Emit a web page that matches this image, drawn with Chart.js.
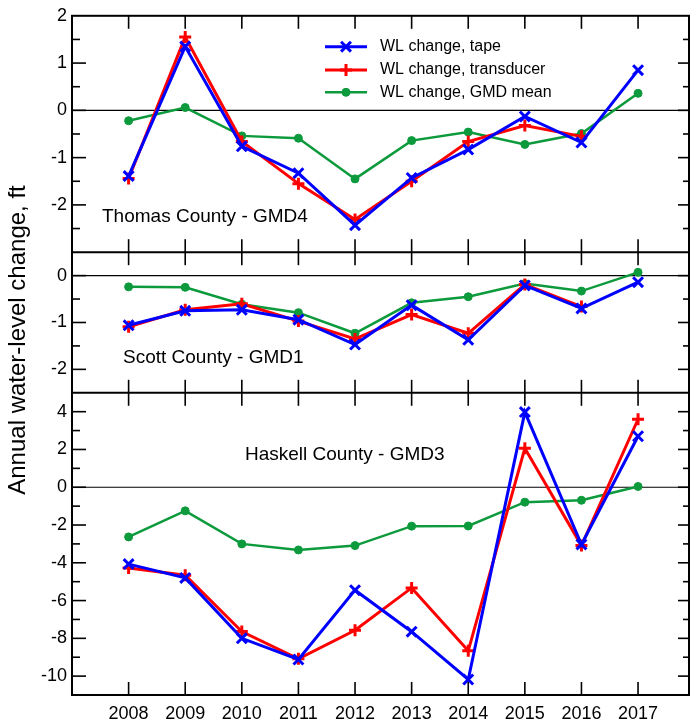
<!DOCTYPE html>
<html>
<head>
<meta charset="utf-8">
<script src="https://cdn.jsdelivr.net/npm/chart.js@4.4.1/dist/chart.umd.min.js"></script>
<style>
  html, body { margin: 0; padding: 0; background: #fff; }
</style>
</head>
<body>
<canvas id="chart" width="690" height="723"></canvas>
<script>
(() => {
  const years = [2008, 2009, 2010, 2011, 2012, 2013, 2014, 2015, 2016, 2017];
  const seriesLabels = ["WL change, tape", "WL change, transducer", "WL change, GMD mean"];
  const panelNames = ["Thomas County - GMD4", "Scott County - GMD1", "Haskell County - GMD3"];
  const yTitle = "Annual water-level change, ft";

  // Thomas County - GMD4
  const thomasTape = [-1.39, 1.35, -0.76, -1.33, -2.43, -1.43, -0.83, -0.13, -0.68, 0.85];
  const thomasTransducer = [-1.44, 1.55, -0.66, -1.55, -2.31, -1.5, -0.66, -0.32, -0.55, null];
  const thomasMean = [-0.22, 0.06, -0.54, -0.59, -1.45, -0.64, -0.46, -0.72, -0.49, 0.36];
  const thomasTicks = [2, 1, 0, -1, -2];

  // Scott County - GMD1
  const scottTape = [-1.06, -0.75, -0.73, -0.94, -1.47, -0.63, -1.37, -0.21, -0.7, -0.14];
  const scottTransducer = [-1.09, -0.73, -0.6, -0.97, -1.35, -0.83, -1.23, -0.19, -0.66, null];
  const scottMean = [-0.24, -0.25, -0.61, -0.79, -1.23, -0.58, -0.45, -0.17, -0.33, 0.07];
  const scottTicks = [0, -1, -2];

  // Haskell County - GMD3
  const haskellTape = [-4.07, -4.8, -8.0, -9.12, -5.45, -7.65, -10.18, 3.98, -3.03, 2.7];
  const haskellTransducer = [-4.27, -4.66, -7.64, -9.08, -7.57, -5.33, -8.66, 2.06, -3.09, 3.6];
  const haskellMean = [-2.63, -1.25, -3.0, -3.32, -3.09, -2.06, -2.05, -0.79, -0.69, 0.04];
  const haskellTicks = [4, 2, 0, -2, -4, -6, -8, -10];

  const FONT = "'Liberation Sans', Arial, sans-serif";
  const BLUE = "#0000ff";
  const RED = "#ff0000";
  const GREEN = "#0c9a3c";

  const styles = [
    { borderColor: BLUE, backgroundColor: BLUE, borderWidth: 3, pointStyle: "crossRot", pointRadius: 7, pointBorderWidth: 3 },
    { borderColor: RED, backgroundColor: RED, borderWidth: 3, pointStyle: "cross", pointRadius: 6, pointBorderWidth: 3 },
    { borderColor: GREEN, backgroundColor: GREEN, borderWidth: 2.5, pointStyle: "circle", pointRadius: 4, pointBorderWidth: 1 },
  ];

  // top to bottom
  const panels = [
    { id: "y1", min: -3, max: 2, ticks: thomasTicks, minor: 0.5, weight: 237, series: [thomasTape, thomasTransducer, thomasMean], label: { x: 30, y: 201 } },
    { id: "y2", min: -2.5, max: 0.5, ticks: scottTicks, minor: 0.5, weight: 141, series: [scottTape, scottTransducer, scottMean], label: { x: 51, y: 342 } },
    { id: "y3", min: -11, max: 5, ticks: haskellTicks, minor: 1, weight: 303, series: [haskellTape, haskellTransducer, haskellMean], label: { x: 173, y: 439 } },
  ];

  const datasets = [];
  panels.forEach((p) => {
    p.series.forEach((values, i) => {
      datasets.push({
        label: seriesLabels[i],
        data: years.map((x, k) => ({ x: x, y: values[k] })),
        yAxisID: p.id,
        tension: 0,
        spanGaps: false,
        ...styles[i],
      });
    });
  });

  const scales = {
    x: {
      type: "linear",
      position: "bottom",
      min: 2007,
      max: 2017.9,
      grid: { display: false, drawTicks: false },
      border: { display: false },
      afterBuildTicks: (s) => { s.ticks = years.map((v) => ({ value: v })); },
      afterFit: (s) => { s.height = 28; s.paddingLeft = 0; s.paddingRight = 0; },
      ticks: { color: "#000", font: { family: FONT, size: 18 }, padding: 8, maxRotation: 0, autoSkip: false, callback: (v) => String(v) },
    },
  };
  // stacked axes are laid out bottom-up, so declare the lowest panel first
  panels.slice().reverse().forEach((p) => {
    scales[p.id] = {
      type: "linear",
      position: "left",
      stack: "panels",
      stackWeight: p.weight,
      min: p.min,
      max: p.max,
      grid: { display: false, drawTicks: false },
      border: { display: false },
      afterBuildTicks: (s) => { s.ticks = p.ticks.map((v) => ({ value: v })); },
      afterFit: (s) => { s.width = 72; },
      ticks: { color: "#000", font: { family: FONT, size: 18 }, padding: 5, autoSkip: false, callback: (v) => String(v) },
    };
  });

  const line = (ctx, x1, y1, x2, y2) => {
    ctx.beginPath();
    ctx.moveTo(x1, y1);
    ctx.lineTo(x2, y2);
    ctx.stroke();
  };

  const panelDecor = {
    id: "panelDecor",
    beforeDatasetsDraw(chart) {
      const ctx = chart.ctx;
      const area = chart.chartArea;
      ctx.save();
      ctx.strokeStyle = "#000";
      ctx.lineWidth = 1.2;
      panels.forEach((p) => {
        const y0 = chart.scales[p.id].getPixelForValue(0);
        line(ctx, area.left, y0, area.right, y0);
      });
      ctx.restore();
    },
    afterDraw(chart) {
      const ctx = chart.ctx;
      const area = chart.chartArea;
      const xs = chart.scales.x;
      ctx.save();
      ctx.strokeStyle = "#000";
      ctx.lineCap = "butt";

      // ticks
      ctx.lineWidth = 1.6;
      panels.forEach((p) => {
        const s = chart.scales[p.id];
        years.forEach((yr) => {
          const x = xs.getPixelForValue(yr);
          line(ctx, x, s.top, x, s.top + 13);
          line(ctx, x, s.bottom, x, s.bottom - 13);
        });
        const n = Math.round((p.max - p.min) / p.minor);
        for (let k = 1; k < n; k++) {
          const v = p.min + k * p.minor;
          const y = s.getPixelForValue(v);
          const major = p.ticks.some((t) => Math.abs(t - v) < 1e-6);
          line(ctx, area.left, y, area.left + (major ? 14 : 8), y);
          line(ctx, area.right, y, area.right - (major ? 11 : 6), y);
        }
      });

      // frame and dividers
      ctx.lineWidth = 2;
      ctx.strokeRect(area.left, area.top, area.right - area.left, area.bottom - area.top);
      panels.slice(0, -1).forEach((p) => {
        const y = chart.scales[p.id].bottom;
        line(ctx, area.left, y, area.right, y);
      });

      // panel names
      ctx.fillStyle = "#000";
      ctx.font = "19px " + FONT;
      ctx.textBaseline = "middle";
      ctx.textAlign = "left";
      panels.forEach((p, i) => {
        ctx.fillText(panelNames[i], area.left + p.label.x, area.top + p.label.y);
      });

      // legend
      ctx.font = "16px " + FONT;
      const rows = [46.7, 70, 92.3];
      seriesLabels.forEach((lab, i) => {
        const st = styles[i];
        const y = rows[i];
        ctx.strokeStyle = st.borderColor;
        ctx.fillStyle = st.backgroundColor;
        ctx.lineWidth = st.borderWidth;
        line(ctx, 325, y, 367, y);
        ctx.lineWidth = st.pointBorderWidth;
        Chart.helpers.drawPoint(ctx, {
          pointStyle: st.pointStyle,
          radius: st.pointRadius,
          borderWidth: st.pointBorderWidth,
          rotation: 0,
        }, 346, y);
        ctx.fillStyle = "#000";
        ctx.fillText(lab, 380, y);
      });

      // y title
      ctx.font = "24px " + FONT;
      ctx.textAlign = "center";
      ctx.translate(18.5, 340);
      ctx.rotate(-Math.PI / 2);
      ctx.fillText(yTitle, 0, 0);
      ctx.restore();
    },
  };

  new Chart(document.getElementById("chart"), {
    type: "line",
    data: { datasets: datasets },
    options: {
      responsive: false,
      animation: false,
      layout: { autoPadding: false, padding: { left: 0, top: 14, right: 1, bottom: 0 } },
      plugins: { legend: { display: false }, tooltip: { enabled: false } },
      scales: scales,
    },
    plugins: [panelDecor],
  });
})();
</script>
</body>
</html>
